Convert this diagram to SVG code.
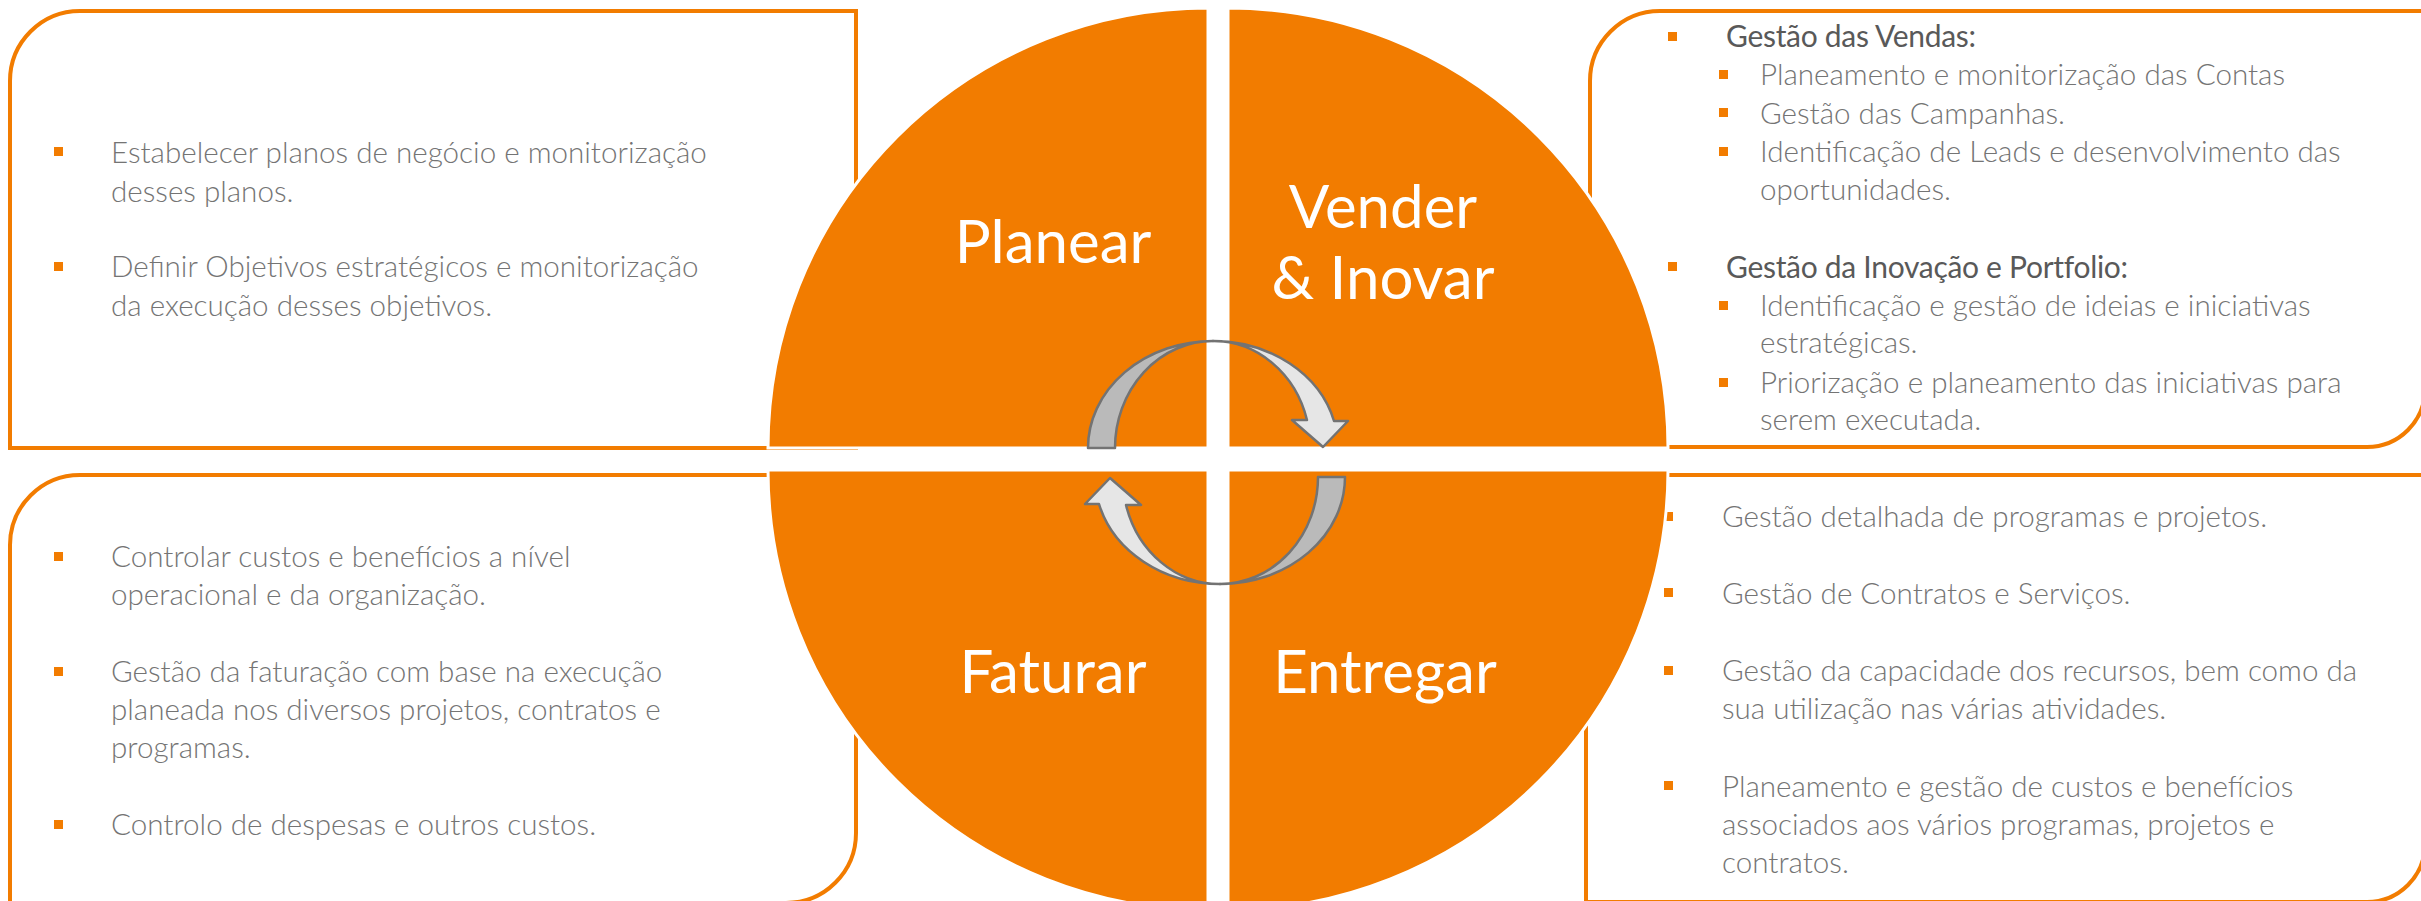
<svg xmlns="http://www.w3.org/2000/svg" xmlns:xlink="http://www.w3.org/1999/xlink" width="2421" height="901" viewBox="0 0 2421 901">
<defs>
<style>
.box{fill:#fff;stroke:#F27C00;stroke-width:4}
.pie{fill:#F27C00;stroke:#fff;stroke-width:3}
.b{fill:#F27C00}
.t{font-family:Lato,"Open Sans",sans-serif;font-weight:300;font-size:29.6px;fill:#747474}
.h{font-family:Lato,"Open Sans",sans-serif;font-weight:400;font-size:30px;fill:#595959;letter-spacing:-0.3px}
.lbl{font-family:Lato,"Open Sans",sans-serif;font-size:60px;fill:#fff;text-anchor:middle}
.ad{fill:#BABABA;stroke:#737373;stroke-width:2.5;stroke-linejoin:round}
.al{fill:#E6E6E6;stroke:#737373;stroke-width:2.5;stroke-linejoin:round}
</style>
<g id="arrowShape">
<path class="ad" d="M1088,448 A125,107 0 0 1 1213,341 A98,107 0 0 0 1115,448 Z"/>
<path class="al" d="M1213,341 A125,107 0 0 1 1334,421 L1348,421 L1323,447 L1292,420 L1307,420 A97,107 0 0 0 1213,341 Z"/>
</g>
</defs>
<rect width="2421" height="901" fill="#fff"/>

<g id="box-planear">
<path class="box" d="M10,81 A70,70 0 0 1 80,11 L856,11 L856,448 L10,448 Z"/>
<rect class="b" x="54" y="147" width="9" height="9"/>
<text class="t" x="111" y="163">Estabelecer planos de negócio e monitorização</text>
<text class="t" x="111" y="202">desses planos.</text>
<rect class="b" x="54" y="262" width="9" height="9"/>
<text class="t" x="111" y="277">Definir Objetivos estratégicos e monitorização</text>
<text class="t" x="111" y="316">da execução desses objetivos.</text>
</g>

<g id="box-vender">
<path class="box" d="M1590,81 A70,70 0 0 1 1660,11 L2430,11 L2425,389 A58,58 0 0 1 2367,447 L1590,447 Z"/>
<rect class="b" x="1668" y="32" width="9" height="9"/>
<text class="h" x="1726" y="47">Gestão das Vendas:</text>
<rect class="b" x="1719" y="70" width="9" height="9"/>
<text class="t" x="1760" y="85">Planeamento e monitorização das Contas</text>
<rect class="b" x="1719" y="108" width="9" height="9"/>
<text class="t" x="1760" y="124">Gestão das Campanhas.</text>
<rect class="b" x="1719" y="147" width="9" height="9"/>
<text class="t" x="1760" y="162">Identificação de Leads e desenvolvimento das</text>
<text class="t" x="1760" y="200">oportunidades.</text>
<rect class="b" x="1668" y="262" width="9" height="9"/>
<text class="h" x="1726" y="278">Gestão da Inovação e Portfolio:</text>
<rect class="b" x="1719" y="301" width="9" height="9"/>
<text class="t" x="1760" y="316">Identificação e gestão de ideias e iniciativas</text>
<text class="t" x="1760" y="353">estratégicas.</text>
<rect class="b" x="1719" y="378" width="9" height="9"/>
<text class="t" x="1760" y="393">Priorização e planeamento das iniciativas para</text>
<text class="t" x="1760" y="430">serem executada.</text>
</g>

<g id="box-faturar">
<path class="box" d="M10,545 A70,70 0 0 1 80,475 L856,475 L856,833 A70,70 0 0 1 786,903 L10,903 Z"/>
<rect class="b" x="54" y="552" width="9" height="9"/>
<text class="t" x="111" y="567">Controlar custos e benefícios a nível</text>
<text class="t" x="111" y="605">operacional e da organização.</text>
<rect class="b" x="54" y="667" width="9" height="9"/>
<text class="t" x="111" y="682">Gestão da faturação com base na execução</text>
<text class="t" x="111" y="720">planeada nos diversos projetos, contratos e</text>
<text class="t" x="111" y="758">programas.</text>
<rect class="b" x="54" y="820" width="9" height="9"/>
<text class="t" x="111" y="835">Controlo de despesas e outros custos.</text>
</g>

<g id="box-entregar">
<path class="box" d="M1586,475 L2425,475 L2425,844 A58,58 0 0 1 2367,902 L1586,902 Z"/>
<rect class="b" x="1664" y="512" width="9" height="9"/>
<text class="t" x="1722" y="527">Gestão detalhada de programas e projetos.</text>
<rect class="b" x="1664" y="588" width="9" height="9"/>
<text class="t" x="1722" y="604">Gestão de Contratos e Serviços.</text>
<rect class="b" x="1664" y="666" width="9" height="9"/>
<text class="t" x="1722" y="681">Gestão da capacidade dos recursos, bem como da</text>
<text class="t" x="1722" y="719">sua utilização nas várias atividades.</text>
<rect class="b" x="1664" y="781" width="9" height="9"/>
<text class="t" x="1722" y="797">Planeamento e gestão de custos e benefícios</text>
<text class="t" x="1722" y="835">associados aos vários programas, projetos e</text>
<text class="t" x="1722" y="873">contratos.</text>
</g>

<g id="pie-planear">
<path class="pie" d="M1208,448 L768,448 A440,440 0 0 1 1208,8 Z"/>
<text class="lbl" x="1053" y="263">Planear</text>
</g>
<g id="pie-vender">
<path class="pie" d="M1228,448 L1228,8 A440,440 0 0 1 1668,448 Z"/>
<text class="lbl" x="1383" y="228">Vender</text>
<text class="lbl" x="1383" y="299">&amp; Inovar</text>
</g>
<g id="pie-faturar">
<path class="pie" d="M1208,470 L1208,910 A440,440 0 0 1 768,470 Z"/>
<text class="lbl" x="1053" y="693">Faturar</text>
</g>
<g id="pie-entregar">
<path class="pie" d="M1228,470 L1668,470 A440,440 0 0 1 1228,910 Z"/>
<text class="lbl" x="1385" y="693">Entregar</text>
</g>

<g id="connectors">
<use xlink:href="#arrowShape"/>
<use xlink:href="#arrowShape" transform="rotate(180 1216.5 462.5)"/>
</g>
</svg>
